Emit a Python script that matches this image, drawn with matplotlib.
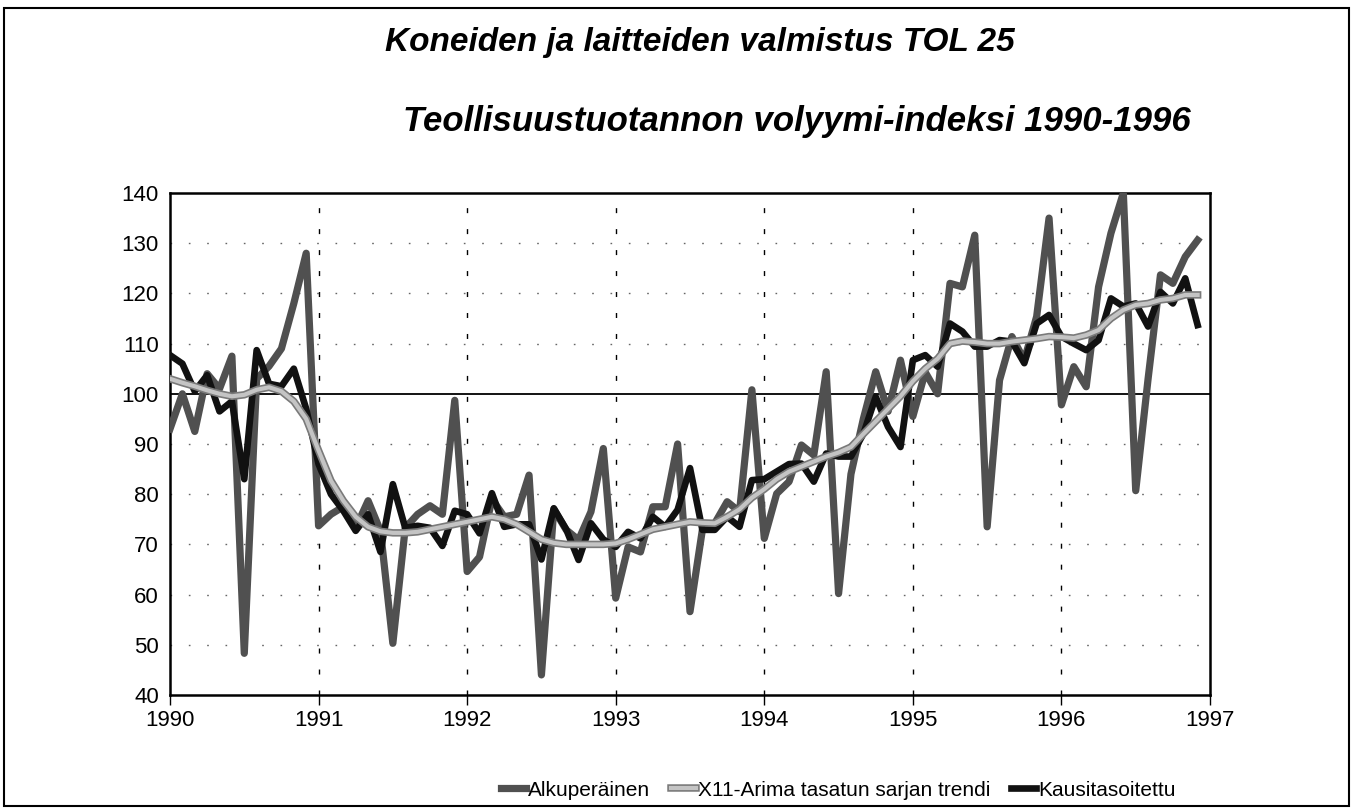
import numpy as np
import matplotlib
matplotlib.use("Agg")
import matplotlib.pyplot as plt
import matplotlib.patheffects as pe
from matplotlib import font_manager as fm
from matplotlib.patches import Rectangle

# ---------------- data ----------------
years = [1990, 1991, 1992, 1993, 1994, 1995, 1996, 1997]
y_ticks = [40, 50, 60, 70, 80, 90, 100, 110, 120, 130, 140]

alkuperainen = [
    93, 100, 92.5, 104, 101, 107.5, 48.3, 103, 105.5, 109, 118, 128,
    73.7, 76, 77.5, 73.3, 78.7, 72.7, 50.3, 73.3, 76, 77.7, 76, 98.7,
    64.6, 67.5, 79, 75.5, 76, 83.8, 44, 77, 72.9, 70.9, 76.5, 89.1,
    59.3, 69.5, 68.5, 77.5, 77.5, 90, 56.6, 72.9, 74.2, 78.5, 76.5, 100.8,
    71.2, 80.1, 82.5, 89.8, 87.8, 104.4, 60.2, 84, 95, 104.4, 96.5, 106.7,
    95.5, 104.3, 100, 122, 121.3, 131.6, 73.5, 102.7, 111.4, 106.7, 115.4, 135,
    97.8, 105.4, 101.4, 121.3, 132, 140, 80.7, 103, 123.7, 122, 127.3, 130.6,
]
trendi = [
    103, 102.2, 101.5, 100.7, 100, 99.5, 99.8, 100.8, 101.3, 100.5, 98.5, 95,
    88.7, 82.7, 78.7, 75.5, 73.5, 72.6, 72.3, 72.3, 72.5, 73, 73.5, 74,
    74.5, 75, 75.5, 75, 74, 72.5, 71, 70.3, 70, 70, 70, 70,
    70.2, 71, 72, 73, 73.5, 74, 74.5, 74.3, 74.2, 75.5, 77, 79.3,
    81, 83, 84.5, 85.5, 86.5, 87.5, 88.3, 89.4, 92, 94.5, 97, 99.5,
    102.5, 105, 107, 110, 110.5, 110.3, 110, 110, 110.4, 110.7, 111, 111.4,
    111.3, 111.1, 111.7, 112.7, 115, 116.7, 117.7, 118, 118.7, 119, 119.7, 119.7,
]
kausitasoitettu = [
    107.7, 106, 100.5, 103.7, 96.5, 98.5, 83, 108.7, 102, 101.5, 105, 97,
    86, 80, 76.7, 72.7, 76, 68.5, 82, 73.3, 73.7, 73.3, 69.7, 76.7,
    76, 72.2, 80.2, 73.5, 74, 74, 67, 77.2, 73, 66.9, 74.2, 71,
    69.5, 72.5, 71.2, 75.5, 73.5, 76.9, 85.2, 72.9, 72.9, 75.5, 73.5, 82.8,
    83, 84.5, 86, 86.1, 82.5, 88.1, 87.5, 87.5, 92, 99.4, 93.4, 89.4,
    106.7, 107.7, 105.4, 114, 112.4, 109.4, 109.4, 110.7, 110.4, 106.1, 114, 115.7,
    111.4, 110, 108.7, 110.7, 119, 117.4, 118, 113.4, 120.3, 118, 123, 113.7,
]
labels = ["Alkuperäinen", "X11-Arima tasatun sarjan trendi", "Kausitasoitettu"]
title1 = "Koneiden ja laitteiden valmistus TOL 25"
title2 = "Teollisuustuotannon volyymi-indeksi 1990-1996"

# ---------------- fonts ----------------
names = {f.name for f in fm.fontManager.ttflist}
narrow = "Liberation Sans Narrow" if "Liberation Sans Narrow" in names else "Liberation Sans"
plt.rcParams["font.family"] = [narrow, "DejaVu Sans"]

# ---------------- figure ----------------
W, H = 1355, 810
fig = plt.figure(figsize=(W / 100, H / 100), dpi=100)
ax = fig.add_axes([170 / W, 1 - 695 / H, 1040 / W, 502 / H])

x = 1990 + np.arange(len(alkuperainen)) / 12.0

ax.plot(x, alkuperainen, color="#505050", lw=5.2, zorder=3, label=labels[0])
ax.plot(x, kausitasoitettu, color="#111111", lw=4.8, zorder=4, label=labels[2])
ax.plot(x, trendi, color="#c4c4c4", lw=3.0, zorder=5, label=labels[1],
        path_effects=[pe.withStroke(linewidth=5.4, foreground="#7a7a7a")])

ax.set_xlim(1990, 1997)
ax.set_ylim(40, 140)
ax.set_xticks(years)
ax.set_xticklabels([str(v) for v in years])
ax.set_yticks(y_ticks)
ax.set_yticklabels([str(v) for v in y_ticks])

# grid
for yv in y_ticks:
    if yv in (40, 140):
        continue
    if yv == 100:
        ax.axhline(yv, color="black", lw=1.3, zorder=2)
    else:
        ax.axhline(yv, color="#666666", lw=1.0, ls=(0, (1.2, 12)), zorder=1)
for xv in years[1:-1]:
    ax.axvline(xv, color="black", lw=1.0, ls=(0, (3.6, 11.5)), zorder=1)

for s in ax.spines.values():
    s.set_linewidth(1.8)
    s.set_color("black")

ax.tick_params(axis="x", direction="out", length=7, width=1, pad=4, labelsize=16)
ax.tick_params(axis="y", length=0, pad=8, labelsize=16)

fig.text(700 / W, 1 - 42 / H, title1, ha="center", va="center",
         fontsize=24, fontweight="bold", fontstyle="italic")
fig.text(797 / W, 1 - 122 / H, title2, ha="center", va="center",
         fontsize=25, fontweight="bold", fontstyle="italic")

h, l = ax.get_legend_handles_labels()
order = [l.index(n) for n in labels]
fig.legend([h[i] for i in order], [l[i] for i in order], loc="center",
           bbox_to_anchor=(838 / W, 1 - 790 / H), ncol=3, frameon=False,
           fontsize=15, handlelength=1.2, handletextpad=0.1, columnspacing=1.0)

# outer border
fig.add_artist(Rectangle((4 / W, 1 - 806 / H), (1349 - 4) / W, (806 - 8) / H,
                         transform=fig.transFigure, fill=False, lw=1.5, ec="black"))

fig.savefig("out.png", dpi=100)
